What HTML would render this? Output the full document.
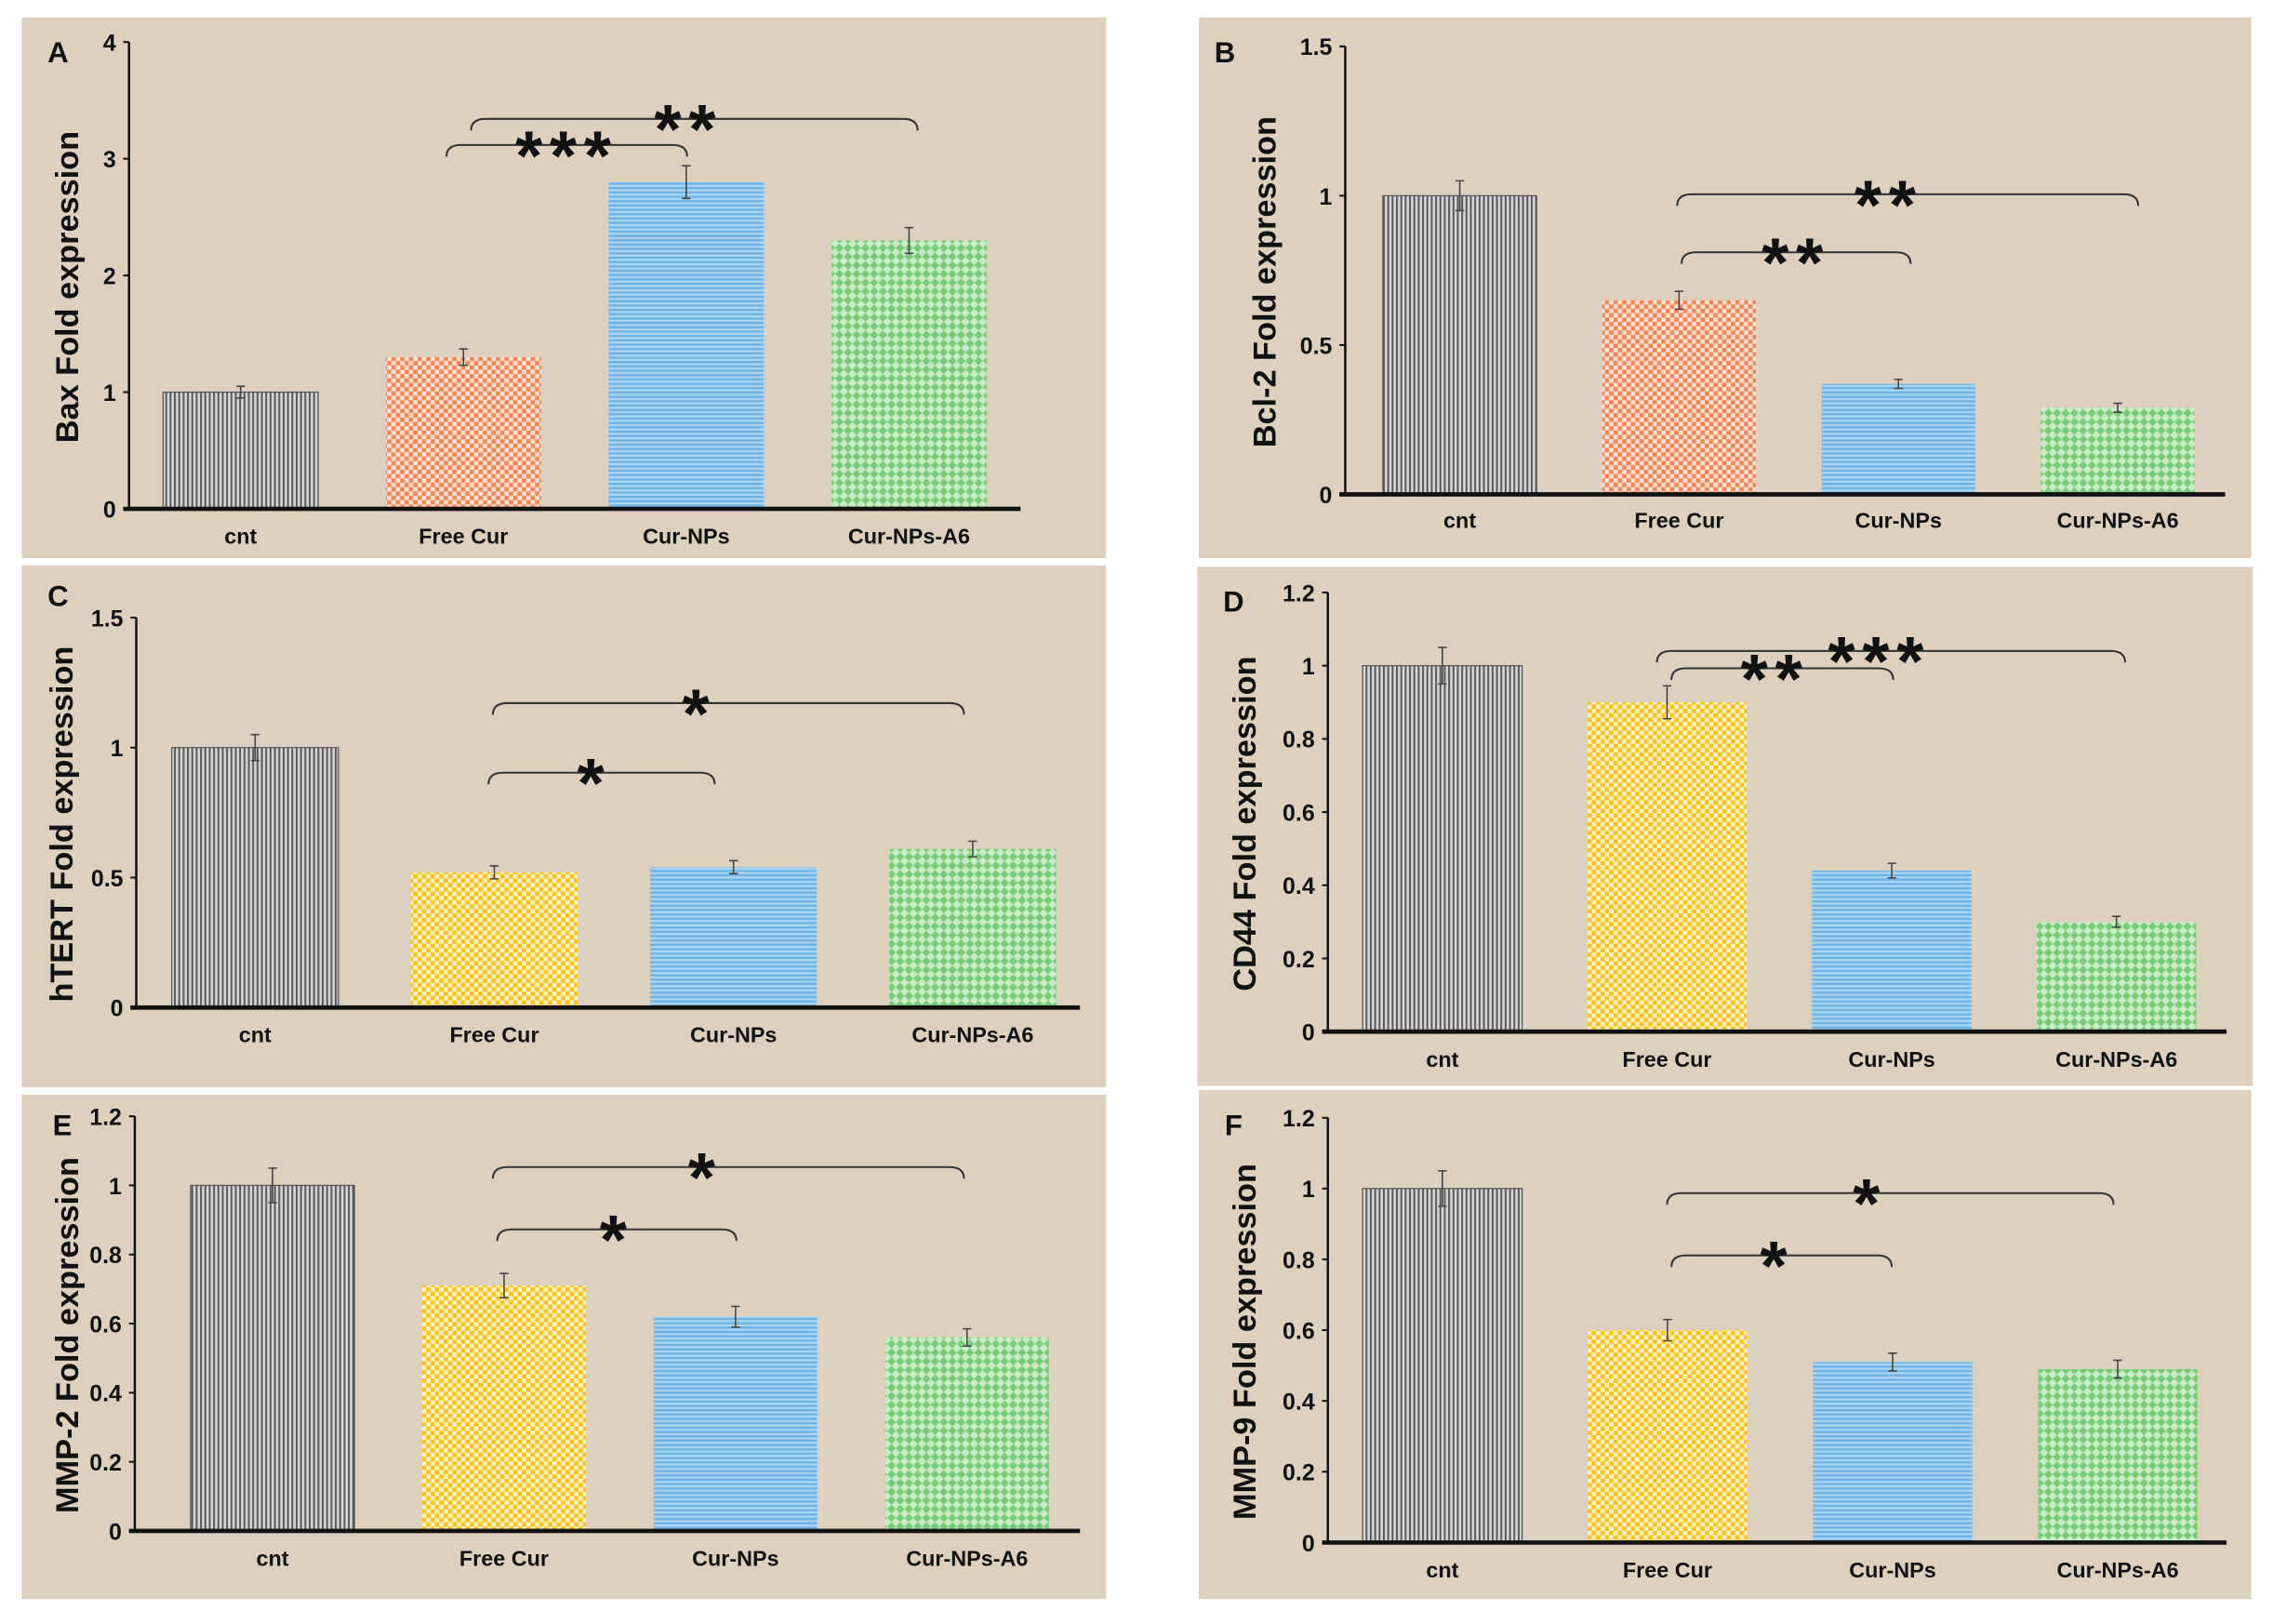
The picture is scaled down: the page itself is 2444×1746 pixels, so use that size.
<!DOCTYPE html>
<html><head><meta charset="utf-8"><style>
html,body{margin:0;padding:0;background:#fff;}
svg{display:block;}
text{font-family:"Liberation Sans",Arial,sans-serif;}
</style></head><body>
<svg id="fig" width="2444" height="1746" viewBox="0 0 1568 1120.2" preserveAspectRatio="none" xmlns="http://www.w3.org/2000/svg">
<defs>
<pattern id="pGray" width="3" height="3" patternUnits="userSpaceOnUse"><rect width="3" height="3" fill="#d6d6d6"/><rect width="1.3" height="3" fill="#5a5a5a"/></pattern>
<pattern id="pOrange" width="6" height="6" patternUnits="userSpaceOnUse"><rect width="6" height="6" fill="#fbe1d2"/><rect width="3" height="3" fill="#f5865a"/><rect x="3" y="3" width="3" height="3" fill="#f5865a"/></pattern>
<pattern id="pYellow" width="6" height="6" patternUnits="userSpaceOnUse"><rect width="6" height="6" fill="#fdf0c6"/><rect width="3" height="3" fill="#f8c41c"/><rect x="3" y="3" width="3" height="3" fill="#f8c41c"/></pattern>
<pattern id="pBlue" width="4" height="3" patternUnits="userSpaceOnUse"><rect width="4" height="3" fill="#a9d5f1"/><rect width="4" height="1.5" fill="#6db3e6"/></pattern>
<pattern id="pGreen" width="6" height="6" patternUnits="userSpaceOnUse"><rect width="6" height="6" fill="#c9ecc6"/><path d="M3 0L6 3L3 6L0 3Z" fill="#78cc78"/></pattern>
</defs>
<g id="root"></g>
</svg>
<script>
const categories = ["cnt","Free Cur","Cur-NPs","Cur-NPs-A6"];
const baxValues = [1.0,1.3,2.8,2.3];
const baxErrors = [0.05,0.07,0.14,0.11];
const bcl2Values = [1.0,0.65,0.37,0.29];
const bcl2Errors = [0.05,0.03,0.015,0.015];
const htertValues = [1.0,0.52,0.54,0.61];
const htertErrors = [0.05,0.025,0.025,0.03];
const cd44Values = [1.0,0.9,0.44,0.30];
const cd44Errors = [0.05,0.045,0.02,0.015];
const mmp2Values = [1.0,0.71,0.62,0.56];
const mmp2Errors = [0.05,0.035,0.03,0.025];
const mmp9Values = [1.0,0.6,0.51,0.49];
const mmp9Errors = [0.05,0.03,0.025,0.025];
const baxTicks = [0,1,2,3,4];
const bcl2Ticks = [0,0.5,1,1.5];
const htertTicks = [0,0.5,1,1.5];
const cd44Ticks = [0,0.2,0.4,0.6,0.8,1,1.2];
const mmp2Ticks = [0,0.2,0.4,0.6,0.8,1,1.2];
const mmp9Ticks = [0,0.2,0.4,0.6,0.8,1,1.2];
const baxSig = [["***",1,2],["**",1,3]];
const bcl2Sig = [["**",1,2],["**",1,3]];
const htertSig = [["*",1,2],["*",1,3]];
const cd44Sig = [["**",1,2],["***",1,3]];
const mmp2Sig = [["*",1,2],["*",1,3]];
const mmp9Sig = [["*",1,2],["*",1,3]];

const panels = [
 {id:"a",letter:"A",title:"Bax Fold expression",vals:baxValues,errs:baxErrors,ticks:baxTicks,sig:baxSig,free:"pOrange",
  bg:[15,12,748,373],ax:89,y0:351,yTop:29,xr:704,c0:166,sp:153.7,bw:107,ly:370,lx:[40,35],tx:46,
  br:[[308,474,100,0],[325,633,82,-4]]},
 {id:"b",letter:"B",title:"Bcl-2 Fold expression",vals:bcl2Values,errs:bcl2Errors,ticks:bcl2Ticks,sig:bcl2Sig,free:"pOrange",
  bg:[827,12,726,373],ax:928,y0:341,yTop:32,xr:1535,c0:1007,sp:151.3,bw:106,ly:359,lx:[845,35],tx:872,
  br:[[1160,1318,174,0],[1157,1475,134,-13]]},
 {id:"c",letter:"C",title:"hTERT Fold expression",vals:htertValues,errs:htertErrors,ticks:htertTicks,sig:htertSig,free:"pYellow",
  bg:[15,390,748,360],ax:94,y0:695,yTop:426,xr:745,c0:176,sp:165,bw:115,ly:714,lx:[40,410],tx:42,
  br:[[337,493,533,-5],[340,665,485,-20]]},
 {id:"d",letter:"D",title:"CD44 Fold expression",vals:cd44Values,errs:cd44Errors,ticks:cd44Ticks,sig:cd44Sig,free:"pYellow",
  bg:[826,391,728,358],ax:916,y0:711.6,yTop:408.7,xr:1536,c0:995,sp:155,bw:110,ly:731,lx:[851,414],tx:858,
  br:[[1153,1306,461,-5],[1143,1466,449,-8]]},
 {id:"e",letter:"E",title:"MMP-2 Fold expression",vals:mmp2Values,errs:mmp2Errors,ticks:mmp2Ticks,sig:mmp2Sig,free:"pYellow",
  bg:[15,755,748,348],ax:93,y0:1056,yTop:770,xr:745,c0:188,sp:159.7,bw:113,ly:1075,lx:[43,775],tx:46,
  br:[[343,508,848,0],[340,665,805,-16]]},
 {id:"f",letter:"F",title:"MMP-9 Fold expression",vals:mmp9Values,errs:mmp9Errors,ticks:mmp9Ticks,sig:mmp9Sig,free:"pYellow",
  bg:[827,752,726,351],ax:916,y0:1064,yTop:771,xr:1536,c0:995,sp:155.3,bw:110,ly:1083,lx:[851,775],tx:858,
  br:[[1153,1305,866,-3],[1150,1458,823,-14]]}
];
const NS="http://www.w3.org/2000/svg";
const root=document.getElementById("root");
function mk(tag,attrs,parent,txt){const e=document.createElementNS(NS,tag);for(const k in attrs)e.setAttribute(k,attrs[k]);if(txt!==undefined)e.textContent=txt;parent.appendChild(e);return e;}
panels.forEach(p=>{
 const g=mk("g",{},root);
 
 
 const bg=mk("rect",{x:p.bg[0],y:p.bg[1],width:p.bg[2],height:p.bg[3],fill:"#ddd0be"},g);
 
 
 const tmax=p.ticks[p.ticks.length-1];
 const yS=v=>p.y0-(v/tmax)*(p.y0-p.yTop);
 const xS=i=>p.c0+i*p.sp;
 const fills=["url(#pGray)","url(#"+p.free+")","url(#pBlue)","url(#pGreen)"];
 const strokes=["#555","none","none","none"];
 p.vals.forEach((v,i)=>{
  const b=mk("rect",{x:xS(i)-p.bw/2,y:yS(v),width:p.bw,height:p.y0-yS(v),fill:fills[i],stroke:strokes[i],"stroke-width":0.8},g);
  
  
  const e=p.errs[i],cx=xS(i);
  const eb=mk("path",{d:`M${cx} ${yS(v+e)}V${yS(v-e)}M${cx-3} ${yS(v+e)}H${cx+3}M${cx-3} ${yS(v-e)}H${cx+3}`,stroke:"#444","stroke-width":1,fill:"none"},g);
  
  
  const lb=mk("text",{x:cx,y:p.ly+5,"text-anchor":"middle","font-size":15,"font-weight":"bold",fill:"#111"},g,categories[i]);
  
  
 });
 const ya=mk("line",{x1:p.ax,y1:p.yTop,x2:p.ax,y2:p.y0,stroke:"#111","stroke-width":1.6},g);
 
 
 const xa=mk("line",{x1:p.ax-4,y1:p.y0,x2:p.xr,y2:p.y0,stroke:"#111","stroke-width":3},g);
 
 
 p.ticks.forEach(t=>{
  mk("line",{x1:p.ax-4,y1:yS(t),x2:p.ax,y2:yS(t),stroke:"#111","stroke-width":1.3},g);
  const tl=mk("text",{x:p.ax-9,y:yS(t)+6,"text-anchor":"end","font-size":16,"font-weight":"bold",fill:"#111"},g,String(t));
  
  
 });
 const cy=(p.y0+p.yTop)/2+8;
 const yt=mk("text",{x:p.tx,y:cy,"text-anchor":"middle","font-size":22,"font-weight":"bold",fill:"#111",transform:`rotate(-90 ${p.tx} ${cy})`,dy:8},g,p.title);
 
 
 const lt=mk("text",{x:p.lx[0],y:p.lx[1]+8,"text-anchor":"middle","font-size":20,"font-weight":"bold",fill:"#111"},g,p.letter);
 
 
 p.sig.forEach((s,k)=>{
  const [x1,x2,y,off]=p.br[k];
  const path=mk("path",{d:`M${x1} ${y+8}Q${x1} ${y} ${x1+10} ${y}H${x2-10}Q${x2} ${y} ${x2} ${y+8}`,stroke:"#333","stroke-width":1.3,fill:"none"},g);
  
  
  const sx=(x1+x2)/2+off;
  const st=mk("text",{x:sx,y:y+24,"text-anchor":"middle","font-size":48,"font-weight":"bold",fill:"#111","letter-spacing":5},g,s[0]);
  
  
 });
});
</script>
</body></html>
